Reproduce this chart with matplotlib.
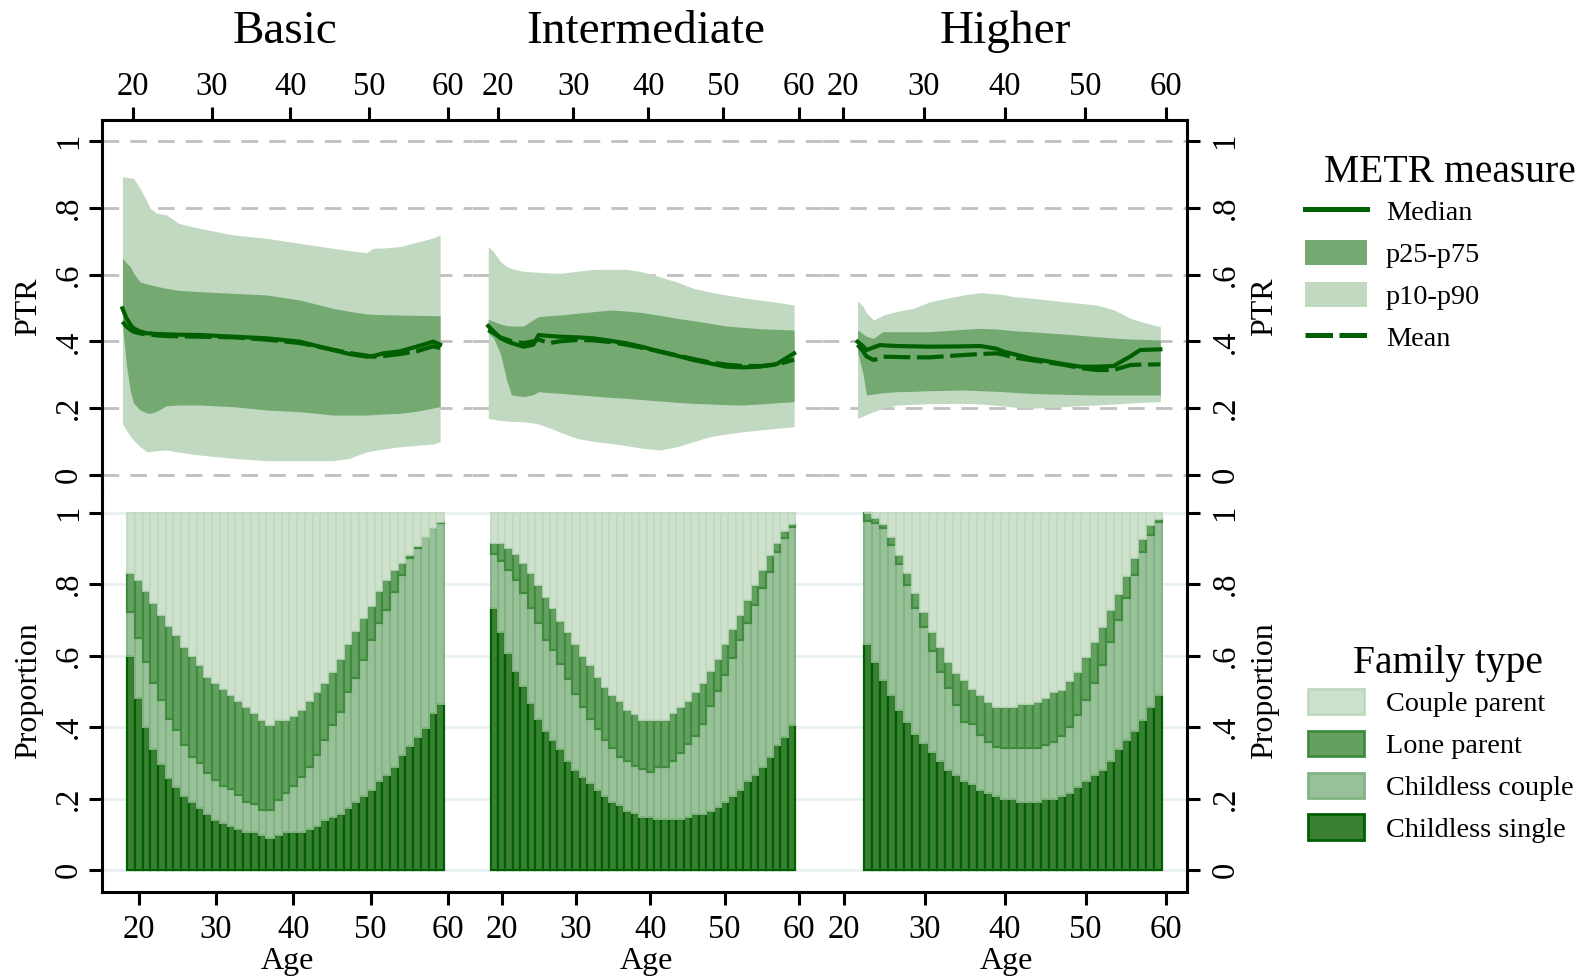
import numpy as np
import matplotlib
matplotlib.use("Agg")
import matplotlib.pyplot as plt
from matplotlib.lines import Line2D
from matplotlib.patches import Patch

plt.rcParams['font.family'] = ['Liberation Serif', 'DejaVu Serif']

# ---------------- data ----------------
panels = ["Basic", "Intermediate", "Higher"]

# PTR distribution (top panels)
basic_age = [18.7, 19.2, 19.7, 20.1, 20.9, 21.8, 22.2, 23.0, 24.3, 25.8, 28.5, 32.8, 37.0, 41.2, 45.4, 47.5, 49.7, 50.5, 51.8, 53.9, 56.0, 58.1, 59.0]
basic_p90 = [0.894, 0.892, 0.890, 0.889, 0.860, 0.820, 0.799, 0.785, 0.779, 0.754, 0.739, 0.719, 0.709, 0.694, 0.679, 0.672, 0.666, 0.679, 0.680, 0.684, 0.697, 0.710, 0.719]
basic_p75 = [0.649, 0.635, 0.624, 0.605, 0.579, 0.572, 0.570, 0.565, 0.559, 0.553, 0.549, 0.544, 0.539, 0.524, 0.499, 0.490, 0.482, 0.481, 0.480, 0.479, 0.478, 0.477, 0.477]
basic_p25 = [0.450, 0.330, 0.250, 0.215, 0.195, 0.185, 0.184, 0.190, 0.207, 0.209, 0.209, 0.204, 0.194, 0.189, 0.179, 0.179, 0.179, 0.180, 0.182, 0.184, 0.190, 0.200, 0.204]
basic_p10 = [0.154, 0.134, 0.115, 0.104, 0.085, 0.069, 0.069, 0.072, 0.074, 0.068, 0.059, 0.049, 0.042, 0.042, 0.042, 0.049, 0.069, 0.072, 0.077, 0.084, 0.088, 0.092, 0.099]
basic_med = [0.499, 0.470, 0.450, 0.439, 0.430, 0.424, 0.424, 0.422, 0.421, 0.420, 0.419, 0.414, 0.409, 0.399, 0.374, 0.362, 0.354, 0.356, 0.364, 0.370, 0.384, 0.399, 0.390]
basic_mean = [0.459, 0.445, 0.435, 0.429, 0.424, 0.420, 0.420, 0.418, 0.416, 0.415, 0.414, 0.412, 0.405, 0.395, 0.375, 0.365, 0.357, 0.354, 0.356, 0.362, 0.370, 0.385, 0.380]

inter_age = [18.7, 19.4, 20.3, 21.2, 21.8, 23.4, 24.7, 25.4, 26.9, 28.2, 30.5, 32.7, 34.9, 37.1, 39.3, 41.5, 43.8, 46.0, 48.2, 50.4, 52.6, 54.8, 57.1, 59.4]
inter_p90 = [0.684, 0.669, 0.640, 0.624, 0.618, 0.610, 0.608, 0.607, 0.605, 0.604, 0.610, 0.616, 0.616, 0.616, 0.608, 0.594, 0.578, 0.559, 0.548, 0.539, 0.531, 0.524, 0.517, 0.509]
inter_p75 = [0.466, 0.460, 0.452, 0.447, 0.446, 0.446, 0.465, 0.474, 0.477, 0.479, 0.484, 0.489, 0.494, 0.491, 0.486, 0.478, 0.469, 0.462, 0.454, 0.446, 0.442, 0.438, 0.436, 0.434]
inter_p25 = [0.425, 0.410, 0.364, 0.280, 0.239, 0.234, 0.240, 0.249, 0.246, 0.244, 0.240, 0.236, 0.232, 0.229, 0.225, 0.221, 0.217, 0.214, 0.212, 0.210, 0.209, 0.212, 0.216, 0.219]
inter_p10 = [0.169, 0.166, 0.163, 0.161, 0.160, 0.159, 0.155, 0.152, 0.140, 0.128, 0.109, 0.100, 0.094, 0.087, 0.079, 0.074, 0.084, 0.099, 0.114, 0.122, 0.129, 0.134, 0.139, 0.144]
inter_med = [0.446, 0.430, 0.410, 0.400, 0.395, 0.384, 0.390, 0.419, 0.416, 0.414, 0.412, 0.409, 0.402, 0.394, 0.383, 0.369, 0.357, 0.344, 0.334, 0.324, 0.322, 0.324, 0.332, 0.364]
inter_mean = [0.434, 0.425, 0.412, 0.405, 0.400, 0.395, 0.400, 0.405, 0.395, 0.400, 0.404, 0.403, 0.398, 0.390, 0.380, 0.370, 0.358, 0.347, 0.337, 0.330, 0.326, 0.326, 0.330, 0.345]

high_age = [21.8, 22.5, 22.9, 23.8, 24.6, 25.0, 26.7, 28.7, 30.8, 34.9, 37.0, 39.0, 39.9, 41.1, 43.2, 47.3, 49.4, 51.4, 53.5, 55.6, 56.8, 59.3]
high_p90 = [0.522, 0.504, 0.485, 0.464, 0.474, 0.479, 0.490, 0.499, 0.519, 0.539, 0.546, 0.542, 0.540, 0.534, 0.530, 0.519, 0.514, 0.509, 0.495, 0.469, 0.460, 0.444]
high_p75 = [0.434, 0.422, 0.415, 0.409, 0.424, 0.429, 0.429, 0.429, 0.429, 0.436, 0.439, 0.437, 0.435, 0.432, 0.429, 0.422, 0.418, 0.414, 0.410, 0.407, 0.406, 0.404]
high_p25 = [0.370, 0.300, 0.239, 0.242, 0.245, 0.246, 0.249, 0.250, 0.252, 0.254, 0.252, 0.250, 0.249, 0.247, 0.244, 0.241, 0.240, 0.239, 0.239, 0.239, 0.239, 0.239]
high_p10 = [0.169, 0.176, 0.180, 0.189, 0.196, 0.200, 0.209, 0.211, 0.213, 0.214, 0.212, 0.208, 0.206, 0.203, 0.199, 0.204, 0.207, 0.209, 0.212, 0.215, 0.217, 0.219]
high_med = [0.399, 0.385, 0.374, 0.382, 0.389, 0.388, 0.386, 0.385, 0.384, 0.385, 0.386, 0.378, 0.369, 0.362, 0.349, 0.332, 0.324, 0.324, 0.326, 0.355, 0.374, 0.376]
high_mean = [0.390, 0.370, 0.355, 0.344, 0.350, 0.354, 0.353, 0.352, 0.352, 0.359, 0.362, 0.364, 0.360, 0.352, 0.344, 0.330, 0.320, 0.314, 0.314, 0.329, 0.330, 0.331]

# Family type shares (bottom panels), cumulative tops of stacked layers
basic_bar_age = list(range(19, 60))
basic_cum_single = [0.600, 0.482, 0.399, 0.339, 0.297, 0.258, 0.233, 0.208, 0.191, 0.174, 0.158, 0.140, 0.132, 0.124, 0.116, 0.107, 0.107, 0.099, 0.090, 0.099, 0.107, 0.107, 0.107, 0.116, 0.124, 0.140, 0.149, 0.158, 0.174, 0.191, 0.208, 0.224, 0.250, 0.266, 0.289, 0.322, 0.347, 0.373, 0.398, 0.440, 0.465]
basic_cum_ccouple = [0.723, 0.648, 0.583, 0.522, 0.476, 0.424, 0.392, 0.350, 0.317, 0.299, 0.272, 0.252, 0.235, 0.226, 0.210, 0.191, 0.185, 0.168, 0.168, 0.196, 0.216, 0.235, 0.259, 0.289, 0.322, 0.364, 0.406, 0.443, 0.499, 0.536, 0.588, 0.644, 0.690, 0.728, 0.779, 0.826, 0.872, 0.900, 0.933, 0.961, 0.970]
basic_cum_lone = [0.832, 0.813, 0.782, 0.748, 0.714, 0.683, 0.658, 0.625, 0.600, 0.574, 0.541, 0.524, 0.507, 0.490, 0.473, 0.457, 0.440, 0.421, 0.406, 0.421, 0.421, 0.431, 0.448, 0.473, 0.499, 0.524, 0.555, 0.590, 0.633, 0.668, 0.705, 0.739, 0.781, 0.813, 0.840, 0.858, 0.882, 0.907, 0.931, 0.956, 0.975]

inter_bar_age = list(range(19, 60))
inter_cum_single = [0.732, 0.667, 0.608, 0.558, 0.516, 0.466, 0.423, 0.390, 0.365, 0.339, 0.306, 0.280, 0.259, 0.243, 0.224, 0.208, 0.191, 0.182, 0.166, 0.159, 0.149, 0.149, 0.142, 0.142, 0.142, 0.142, 0.149, 0.156, 0.156, 0.166, 0.175, 0.191, 0.208, 0.224, 0.250, 0.266, 0.289, 0.315, 0.349, 0.373, 0.406]
inter_cum_ccouple = [0.884, 0.865, 0.840, 0.813, 0.774, 0.732, 0.690, 0.645, 0.617, 0.577, 0.534, 0.493, 0.457, 0.424, 0.394, 0.365, 0.341, 0.317, 0.306, 0.291, 0.282, 0.275, 0.287, 0.287, 0.306, 0.327, 0.353, 0.375, 0.410, 0.459, 0.502, 0.546, 0.592, 0.644, 0.690, 0.742, 0.788, 0.835, 0.891, 0.928, 0.961]
inter_cum_lone = [0.916, 0.916, 0.900, 0.884, 0.858, 0.832, 0.798, 0.765, 0.732, 0.697, 0.667, 0.633, 0.599, 0.574, 0.541, 0.513, 0.490, 0.474, 0.448, 0.438, 0.421, 0.421, 0.421, 0.421, 0.440, 0.455, 0.474, 0.499, 0.524, 0.557, 0.590, 0.633, 0.674, 0.714, 0.756, 0.798, 0.840, 0.882, 0.916, 0.950, 0.968]

high_bar_age = list(range(23, 60))
high_cum_single = [0.633, 0.582, 0.532, 0.490, 0.448, 0.415, 0.381, 0.355, 0.329, 0.306, 0.280, 0.266, 0.249, 0.241, 0.224, 0.215, 0.207, 0.198, 0.198, 0.189, 0.189, 0.189, 0.198, 0.198, 0.207, 0.215, 0.233, 0.249, 0.266, 0.280, 0.306, 0.339, 0.364, 0.390, 0.421, 0.455, 0.490]
high_cum_ccouple = [0.978, 0.970, 0.956, 0.910, 0.856, 0.798, 0.732, 0.679, 0.614, 0.555, 0.508, 0.462, 0.415, 0.410, 0.378, 0.359, 0.345, 0.341, 0.341, 0.341, 0.341, 0.341, 0.350, 0.359, 0.375, 0.401, 0.434, 0.476, 0.522, 0.574, 0.637, 0.700, 0.760, 0.826, 0.891, 0.938, 0.975]
high_cum_lone = [1.000, 0.984, 0.968, 0.933, 0.882, 0.832, 0.774, 0.723, 0.667, 0.625, 0.583, 0.551, 0.532, 0.507, 0.490, 0.471, 0.457, 0.455, 0.455, 0.465, 0.465, 0.471, 0.480, 0.499, 0.505, 0.530, 0.555, 0.597, 0.639, 0.681, 0.729, 0.772, 0.823, 0.872, 0.925, 0.966, 0.981]

x_ticks = [20, 30, 40, 50, 60]
y_ticks = [0, 0.2, 0.4, 0.6, 0.8, 1.0]
y_ticklabels = ["0", ".2", ".4", ".6", ".8", "1"]
metr_labels = ["Median", "p25-p75", "p10-p90", "Mean"]
family_labels = ["Couple parent", "Lone parent", "Childless couple", "Childless single"]

# ---------------- style ----------------
C_P1090 = "#c1d9c1"
C_P2575 = "#74aa72"
C_LINE = "#005f00"
F_SINGLE, E_SINGLE = "#3a8034", "#006000"
F_CCOUPLE, E_CCOUPLE = "#99c199", "#82b482"
F_LONE, E_LONE = "#64a060", "#3f8c3f"
F_CPARENT, E_CPARENT = "#cde1cd", "#c0d8c0"
GRID_TOP = "#c0c0c0"
GRID_BOT = "#e8f0f2"

TICK_FS = 23.5
LAB_FS = 23
TITLE_FS = 34
LEG_FS = 20.3
LEGT_FS = 28.5
SPINE_LW = 2.2
TICK_LEN = 9.4

W, H = 1587, 976
fig = plt.figure(figsize=(W / 100, H / 100), dpi=100)


def px_axes(x0, x1, y0, y1):
    return fig.add_axes([x0 / W, 1 - y1 / H, (x1 - x0) / W, (y1 - y0) / H])


def lim_from_anchors(p0, p1, a0, a1, v0, v1):
    s = (v1 - v0) / (a1 - a0)
    return v0 + (p0 - a0) * s, v0 + (p1 - a0) * s


cols = [(102, 472), (472, 822), (822, 1187)]
top_xanchor = [(132.7, 448.0), (498.0, 798.6), (843.0, 1166.0)]
bot_xanchor = [(138.7, 448.0), (501.7, 799.0), (844.0, 1166.0)]
TOP_Y = (120, 493)
BOT_Y = (493, 892)

ptr = [
    (basic_age, basic_p10, basic_p25, basic_p75, basic_p90, basic_med, basic_mean),
    (inter_age, inter_p10, inter_p25, inter_p75, inter_p90, inter_med, inter_mean),
    (high_age, high_p10, high_p25, high_p75, high_p90, high_med, high_mean),
]
fam = [
    (basic_bar_age, basic_cum_single, basic_cum_ccouple, basic_cum_lone),
    (inter_bar_age, inter_cum_single, inter_cum_ccouple, inter_cum_lone),
    (high_bar_age, high_cum_single, high_cum_ccouple, high_cum_lone),
]


def style_y(ax, i):
    ax.set_yticks(y_ticks)
    ax.set_yticklabels(y_ticklabels)
    if i == 0:
        ax.tick_params(axis="y", left=True, right=False, labelleft=True, labelright=False,
                       length=TICK_LEN, width=SPINE_LW, pad=3.6, labelsize=TICK_FS, labelrotation=90)
    elif i == 2:
        ax.tick_params(axis="y", left=False, right=True, labelleft=False, labelright=True,
                       length=TICK_LEN, width=SPINE_LW, pad=7.2, labelsize=TICK_FS, labelrotation=90)
    else:
        ax.tick_params(axis="y", left=False, right=False, labelleft=False, labelright=False)
    for t in ax.yaxis.get_major_ticks():
        t.label1.set_va("center")
        t.label2.set_va("center")
    for side in ("left", "right"):
        ax.spines[side].set_visible((side == "left" and i == 0) or (side == "right" and i == 2))
        ax.spines[side].set_linewidth(SPINE_LW)


for i, (x0, x1) in enumerate(cols):
    # ---------- top: PTR ----------
    axt = px_axes(x0, x1, *TOP_Y)
    age, p10, p25, p75, p90, med, mean = ptr[i]
    axt.set_xlim(*lim_from_anchors(x0, x1, top_xanchor[i][0], top_xanchor[i][1], 20, 60))
    axt.set_ylim(*lim_from_anchors(TOP_Y[1], TOP_Y[0], 474.7, 141.3, 0, 1))
    axt.fill_between(age, p10, p90, color=C_P1090, lw=0, zorder=2)
    axt.fill_between(age, p25, p75, color=C_P2575, lw=0, zorder=3)
    axt.plot(age, med, color=C_LINE, lw=3.0, zorder=4, solid_joinstyle="round")
    axt.plot(age, mean, color=C_LINE, lw=3.0, dashes=(6.4, 1.6), zorder=4)
    axt.grid(axis="y", color=GRID_TOP, lw=2.0, ls=(0, (6, 4)), zorder=1)
    axt.grid(axis="x", visible=False)
    axt.set_axisbelow(True)
    axt.xaxis.tick_top()
    axt.set_xticks(x_ticks)
    axt.tick_params(axis="x", top=True, bottom=False, labeltop=True, labelbottom=False,
                    length=TICK_LEN, width=SPINE_LW, pad=3.6, labelsize=TICK_FS)
    axt.spines["bottom"].set_visible(False)
    axt.spines["top"].set_linewidth(SPINE_LW)
    style_y(axt, i)

    # ---------- bottom: family type ----------
    axb = px_axes(x0, x1, *BOT_Y)
    bage, cs, cc, lp = fam[i]
    cs = np.array(cs); cc = np.array(cc); lp = np.array(lp)
    axb.set_xlim(*lim_from_anchors(x0, x1, bot_xanchor[i][0], bot_xanchor[i][1], 20, 60))
    axb.set_ylim(*lim_from_anchors(BOT_Y[1], BOT_Y[0], 870.0, 512.7, 0, 1))
    axb.bar(bage, cs, width=1.0, bottom=0, color=F_SINGLE, edgecolor=E_SINGLE, lw=1.6, zorder=2)
    axb.bar(bage, cc - cs, width=1.0, bottom=cs, color=F_CCOUPLE, edgecolor=E_CCOUPLE, lw=1.4, zorder=2)
    axb.bar(bage, lp - cc, width=1.0, bottom=cc, color=F_LONE, edgecolor=E_LONE, lw=1.6, zorder=2)
    axb.bar(bage, 1 - lp, width=1.0, bottom=lp, color=F_CPARENT, edgecolor=E_CPARENT, lw=1.2, zorder=2)
    axb.grid(axis="y", color=GRID_BOT, lw=2.0, zorder=1)
    axb.grid(axis="x", visible=False)
    axb.set_axisbelow(True)
    axb.set_xticks(x_ticks)
    axb.tick_params(axis="x", top=False, bottom=True, labeltop=False, labelbottom=True,
                    length=TICK_LEN, width=SPINE_LW, pad=7.0, labelsize=TICK_FS)
    axb.spines["top"].set_visible(False)
    axb.spines["bottom"].set_linewidth(SPINE_LW)
    style_y(axb, i)


def ftext(x, y, s, **kw):
    return fig.text(x / W, 1 - y / H, s, **kw)


# Panel titles and x labels
for name, cx, ax_x in zip(panels, [285, 646, 1005.5], [287.5, 646.7, 1006.5]):
    ftext(cx, 43, name, fontsize=TITLE_FS, ha="center", va="baseline")
    ftext(ax_x, 969, "Age", fontsize=LAB_FS, ha="center", va="baseline")

# y labels
ftext(28.5, 306.5, "PTR", fontsize=LAB_FS, rotation=90, ha="center", va="center")
ftext(28.5, 691, "Proportion", fontsize=LAB_FS, rotation=90, ha="center", va="center")
ftext(1264.5, 306.5, "PTR", fontsize=LAB_FS, rotation=90, ha="center", va="center")
ftext(1264.5, 691, "Proportion", fontsize=LAB_FS, rotation=90, ha="center", va="center")

# Legends
metr_handles = [
    Line2D([], [], color=C_LINE, lw=3.6),
    Patch(facecolor=C_P2575, edgecolor="none"),
    Patch(facecolor=C_P1090, edgecolor="none"),
    Line2D([], [], color=C_LINE, lw=3.6, dashes=(5.5, 1.3)),
]
leg1 = fig.legend(metr_handles, metr_labels, loc="upper left",
                  bbox_to_anchor=(1305 / W, 1 - 198 / H), frameon=False, fontsize=LEG_FS,
                  handlelength=2.2, handleheight=1.0, handletextpad=0.67, labelspacing=0.48,
                  borderpad=0, borderaxespad=0)
ftext(1450, 182, "METR measure", fontsize=LEGT_FS, ha="center", va="baseline")

fam_handles = [
    Patch(facecolor=F_CPARENT, edgecolor=E_CPARENT, lw=2.0),
    Patch(facecolor=F_LONE, edgecolor=E_LONE, lw=2.0),
    Patch(facecolor=F_CCOUPLE, edgecolor=E_CCOUPLE, lw=2.0),
    Patch(facecolor=F_SINGLE, edgecolor=E_SINGLE, lw=2.0),
]
leg2 = fig.legend(fam_handles, family_labels, loc="upper left",
                  bbox_to_anchor=(1308 / W, 1 - 689 / H), frameon=False, fontsize=LEG_FS,
                  handlelength=2.0, handleheight=1.0, handletextpad=0.75, labelspacing=0.48,
                  borderpad=0, borderaxespad=0)
ftext(1448, 673.5, "Family type", fontsize=LEGT_FS, ha="center", va="baseline")

fig.savefig("out.png", dpi=100)
